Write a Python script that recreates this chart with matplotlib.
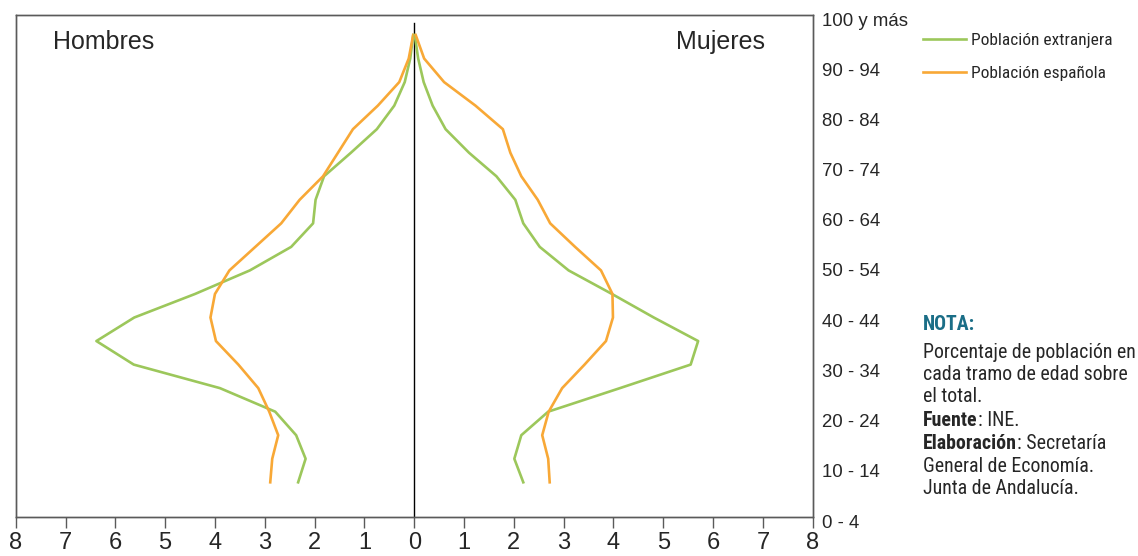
import numpy as np
import matplotlib
matplotlib.use("Agg")
import matplotlib.pyplot as plt
from matplotlib.transforms import ScaledTranslation

# grupos de edad (eje derecho)
age_groups = ["0 - 4", "5 - 9", "10 - 14", "15 - 19", "20 - 24", "25 - 29",
              "30 - 34", "35 - 39", "40 - 44", "45 - 49", "50 - 54", "55 - 59",
              "60 - 64", "65 - 69", "70 - 74", "75 - 79", "80 - 84", "85 - 89",
              "90 - 94", "95 - 99", "100 y más"]

# porcentajes por tramo (de abajo a arriba)
hombres_extranjera = [2.33, 2.18, 2.37, 2.79, 3.90, 5.63, 6.38, 5.62, 4.40, 3.30,
                      2.47, 2.03, 1.98, 1.81, 1.27, 0.75, 0.40, 0.19, 0.08, 0.02]
hombres_espanola = [2.89, 2.85, 2.73, 2.91, 3.13, 3.53, 3.98, 4.09, 4.00, 3.71,
                    3.19, 2.67, 2.30, 1.83, 1.53, 1.23, 0.73, 0.30, 0.11, 0.02]
mujeres_extranjera = [2.19, 2.01, 2.15, 2.69, 4.13, 5.55, 5.70, 4.81, 3.97, 3.10,
                      2.52, 2.19, 2.03, 1.65, 1.10, 0.63, 0.37, 0.19, 0.08, 0.01]
mujeres_espanola = [2.72, 2.69, 2.57, 2.70, 2.97, 3.42, 3.85, 3.99, 3.98, 3.75,
                    3.23, 2.73, 2.48, 2.15, 1.93, 1.78, 1.23, 0.60, 0.20, 0.03]

x_ticks = list(range(-8, 9))

GREEN = "#9CC75B"
ORANGE = "#F8A836"
GREY = "#5a5a5a"
TEXT = "#262626"
TEAL = "#1B6E87"

MAIN = ["Liberation Sans", "DejaVu Sans"]
NARROW = ["Roboto Condensed", "Barlow Semi Condensed", "Fira Sans Condensed", "DejaVu Sans"]

plt.rcParams["font.family"] = MAIN

fig = plt.figure(figsize=(11.38, 5.56), dpi=100)
renderer = fig.canvas.get_renderer()


def fit_size(s, target_px, **props):
    # tamaño de letra para que el texto ocupe target_px de ancho
    t = fig.text(0, 0, s, fontsize=10, family=NARROW, **props)
    w = t.get_window_extent(renderer).width
    t.remove()
    return 10 * target_px / w


def fy(py):
    return 1 - py / 556


ax = fig.add_axes([15.7 / 1138, 1 - 517 / 556, (812.7 - 15.7) / 1138, (517 - 15) / 556])

k = np.arange(len(hombres_extranjera))
ax.plot(-np.array(hombres_extranjera), k, color=GREEN, lw=1.9, label="Población extranjera")
ax.plot(-np.array(hombres_espanola), k, color=ORANGE, lw=1.9, label="Población española")
ax.plot(mujeres_extranjera, k, color=GREEN, lw=1.9)
ax.plot(mujeres_espanola, k, color=ORANGE, lw=1.9)

ax.set_xlim(-8, 8)
ax.set_ylim(-1.474, 19.85)
ax.axvline(0, ymin=0, ymax=0.984, color="black", lw=1.0, zorder=1)

ax.set_xticks(x_ticks)
ax.set_xticklabels([str(abs(v)) for v in x_ticks], fontsize=17, color=TEXT)
ax.tick_params(axis="x", direction="out", length=8, width=1, color=GREY, pad=2.5)
ax.set_yticks([])
for s in ax.spines.values():
    s.set_color(GREY)
    s.set_linewidth(1.0)

# eje de edades a la derecha
ax2 = ax.twinx()
ax2.set_ylim(0, 20)
ax2.set_yticks(range(0, 21, 2))
ax2.set_yticklabels(age_groups[::2], fontsize=13.4, color=TEXT)
ax2.tick_params(axis="y", length=0, pad=6.5)
shift = ScaledTranslation(0, -4 / 100, fig.dpi_scale_trans)
for lab in ax2.get_yticklabels():
    lab.set_transform(lab.get_transform() + shift)
for s in ax2.spines.values():
    s.set_color(GREY)
    s.set_linewidth(1.0)

ax.text(0.047, 0.946, "Hombres", transform=ax.transAxes, fontsize=18,
        color=TEXT, ha="left", va="center")
ax.text(0.940, 0.946, "Mujeres", transform=ax.transAxes, fontsize=18,
        color=TEXT, ha="right", va="center")

# leyenda
leg_size = 12.5
leg_px = leg_size * 100 / 72
leg = fig.legend(loc="upper left", bbox_to_anchor=(923 / 1138, fy(40 - 0.42 * leg_px)),
                 frameon=False, borderpad=0, borderaxespad=0,
                 handlelength=43 / leg_px, handletextpad=5 / leg_px,
                 labelspacing=(32.7 - 0.845 * leg_px) / leg_px,
                 prop={"family": NARROW, "size": leg_size})
for t in leg.get_texts():
    t.set_color(TEXT)

# nota
note_x = 923 / 1138
ns = fit_size("Porcentaje de población en", 212)
nk = dict(family=NARROW, fontsize=ns)

fig.text(note_x, fy(325), "NOTA:", color=TEAL, fontweight="bold",
         va="center", ha="left", **nk)
plain_lines = [("Porcentaje de población en", 352), ("cada tramo de edad sobre", 374.5),
               ("el total.", 397)]
for s, py in plain_lines:
    fig.text(note_x, fy(py), s, color=TEXT, va="center", ha="left", **nk)

t1 = fig.text(note_x, fy(420), "Fuente", color=TEXT, fontweight="bold",
              va="center", ha="left", **nk)
ax.annotate(": INE.", xy=(1, 0), xycoords=t1, va="bottom", ha="left",
            color=TEXT, annotation_clip=False, **nk)

t2 = fig.text(note_x, fy(443.5), "Elaboración", color=TEXT, fontweight="bold",
              va="center", ha="left", **nk)
ax.annotate(": Secretaría", xy=(1, 0), xycoords=t2, va="bottom", ha="left",
            color=TEXT, annotation_clip=False, **nk)

for s, py in [("General de Economía.", 466), ("Junta de Andalucía.", 489)]:
    fig.text(note_x, fy(py), s, color=TEXT, va="center", ha="left", **nk)

fig.savefig("out.png", dpi=100)
